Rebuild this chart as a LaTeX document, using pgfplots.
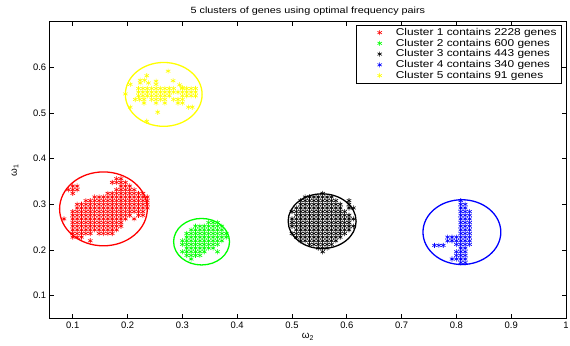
\documentclass[border=0pt]{standalone}
\usepackage{fontspec}
\setmainfont{Liberation Sans}
\newfontfamily\legfont{Liberation Sans}[FakeStretch=1.2]
\usepackage{pgfplots}
\pgfplotsset{compat=1.18}
\definecolor{cred}{RGB}{255,0,0}
\definecolor{cgreen}{RGB}{0,255,0}
\definecolor{cblue}{RGB}{0,0,255}
\definecolor{cyellow}{RGB}{255,255,0}
\begin{document}
\begin{tikzpicture}
\begin{axis}[name=ax, scale only axis, width=519bp, height=298bp,
  xmin=0.058, xmax=1, ymin=0.05, ymax=0.7,
  xtick={0.1,0.2,0.3,0.4,0.5,0.6,0.7,0.8,0.9,1},
  ytick={0.1,0.2,0.3,0.4,0.5,0.6},
  /pgf/number format/assume math mode=true,
  /pgf/number format/fixed,
  tick align=inside, tick pos=both, major tick length=4bp,
  tick style={black, line width=0.6bp},
  axis line style={line width=0.8bp},
  ticklabel style={font=\fontsize{9.5}{11}\selectfont},
  title={5 clusters of genes using optimal frequency pairs},
  title style={font=\legfont\fontsize{9.1}{11}\selectfont, at={(0.5,1)}, anchor=south, yshift=-3bp},
  xlabel={ω\textsubscript{2}}, ylabel={ω\textsubscript{1}},
  label style={font=\fontsize{10}{12}\selectfont},
  xlabel style={yshift=2bp},
  ylabel style={at={(axis description cs:-0.0674,0.5)}, anchor=center},
  every axis plot/.append style={only marks, mark=asterisk, mark size=2.6bp, line width=0.6bp,
    legend image code/.code={\path (0bp,0bp) (34bp,0bp); \draw[##1] plot coordinates {(20bp,0bp)};}},
  legend style={at={(0.992,0.99)}, anchor=north east, draw=black, line width=0.8bp,
    font=\legfont\fontsize{10}{12}\selectfont, cells={anchor=west},
    nodes={inner ysep=1bp, text height=7.3bp, text depth=1.5bp}, row sep=0pt, inner ysep=2bp},
]
\addplot[cred] coordinates {
(0.180,0.356)(0.188,0.356)
(0.172,0.348)(0.180,0.348)(0.188,0.348)(0.196,0.348)
(0.100,0.340)(0.108,0.340)(0.188,0.340)(0.196,0.340)(0.204,0.340)
(0.092,0.332)(0.100,0.332)(0.108,0.332)(0.180,0.332)(0.188,0.332)(0.196,0.332)(0.204,0.332)(0.212,0.332)
(0.100,0.324)(0.164,0.324)(0.172,0.324)(0.180,0.324)(0.188,0.324)(0.196,0.324)(0.204,0.324)(0.212,0.324)(0.220,0.324)(0.228,0.324)
(0.140,0.316)(0.148,0.316)(0.156,0.316)(0.164,0.316)(0.172,0.316)(0.180,0.316)(0.188,0.316)(0.196,0.316)(0.204,0.316)(0.212,0.316)(0.220,0.316)(0.228,0.316)(0.236,0.316)
(0.124,0.308)(0.132,0.308)(0.140,0.308)(0.148,0.308)(0.156,0.308)(0.164,0.308)(0.172,0.308)(0.180,0.308)(0.188,0.308)(0.196,0.308)(0.204,0.308)(0.212,0.308)(0.220,0.308)(0.228,0.308)(0.236,0.308)
(0.108,0.300)(0.116,0.300)(0.124,0.300)(0.132,0.300)(0.140,0.300)(0.148,0.300)(0.156,0.300)(0.164,0.300)(0.172,0.300)(0.180,0.300)(0.188,0.300)(0.196,0.300)(0.204,0.300)(0.212,0.300)(0.220,0.300)(0.228,0.300)(0.236,0.300)
(0.108,0.292)(0.116,0.292)(0.124,0.292)(0.132,0.292)(0.140,0.292)(0.148,0.292)(0.156,0.292)(0.164,0.292)(0.172,0.292)(0.180,0.292)(0.188,0.292)(0.196,0.292)(0.204,0.292)(0.212,0.292)(0.220,0.292)(0.228,0.292)(0.236,0.292)
(0.100,0.284)(0.108,0.284)(0.116,0.284)(0.124,0.284)(0.132,0.284)(0.140,0.284)(0.148,0.284)(0.156,0.284)(0.164,0.284)(0.172,0.284)(0.180,0.284)(0.188,0.284)(0.196,0.284)(0.204,0.284)(0.212,0.284)(0.220,0.284)(0.228,0.284)
(0.100,0.276)(0.108,0.276)(0.116,0.276)(0.124,0.276)(0.132,0.276)(0.140,0.276)(0.148,0.276)(0.156,0.276)(0.164,0.276)(0.172,0.276)(0.180,0.276)(0.188,0.276)(0.196,0.276)(0.204,0.276)(0.220,0.276)(0.228,0.276)
(0.084,0.268)(0.100,0.268)(0.108,0.268)(0.116,0.268)(0.124,0.268)(0.132,0.268)(0.140,0.268)(0.148,0.268)(0.156,0.268)(0.164,0.268)(0.172,0.268)(0.180,0.268)(0.188,0.268)(0.196,0.268)(0.212,0.268)
(0.100,0.260)(0.108,0.260)(0.116,0.260)(0.124,0.260)(0.132,0.260)(0.140,0.260)(0.148,0.260)(0.156,0.260)(0.164,0.260)(0.172,0.260)(0.180,0.260)(0.188,0.260)
(0.100,0.252)(0.108,0.252)(0.116,0.252)(0.124,0.252)(0.132,0.252)(0.140,0.252)(0.148,0.252)(0.156,0.252)(0.164,0.252)(0.172,0.252)(0.180,0.252)(0.188,0.252)
(0.100,0.244)(0.108,0.244)(0.116,0.244)(0.124,0.244)(0.132,0.244)(0.140,0.244)(0.148,0.244)(0.156,0.244)(0.164,0.244)(0.172,0.244)(0.180,0.244)
(0.100,0.236)(0.108,0.236)(0.116,0.236)(0.124,0.236)(0.132,0.236)(0.148,0.236)(0.156,0.236)(0.164,0.236)(0.172,0.236)
(0.100,0.228)(0.108,0.228)(0.116,0.228)
(0.132,0.220)
};
\addlegendentry{Cluster 1 contains 2228 genes}
\addplot[cgreen] coordinates {
(0.348,0.260)(0.356,0.260)(0.364,0.260)
(0.324,0.252)(0.332,0.252)(0.340,0.252)(0.348,0.252)(0.356,0.252)(0.364,0.252)(0.372,0.252)
(0.316,0.244)(0.324,0.244)(0.332,0.244)(0.340,0.244)(0.348,0.244)(0.356,0.244)(0.364,0.244)(0.372,0.244)
(0.308,0.236)(0.316,0.236)(0.324,0.236)(0.332,0.236)(0.340,0.236)(0.348,0.236)(0.356,0.236)(0.364,0.236)(0.372,0.236)(0.380,0.236)
(0.308,0.228)(0.316,0.228)(0.324,0.228)(0.332,0.228)(0.340,0.228)(0.348,0.228)(0.356,0.228)(0.364,0.228)(0.372,0.228)(0.380,0.228)
(0.300,0.220)(0.308,0.220)(0.316,0.220)(0.324,0.220)(0.332,0.220)(0.340,0.220)(0.348,0.220)(0.356,0.220)(0.364,0.220)(0.372,0.220)
(0.300,0.212)(0.308,0.212)(0.316,0.212)(0.324,0.212)(0.332,0.212)(0.340,0.212)(0.348,0.212)(0.356,0.212)(0.364,0.212)
(0.308,0.204)(0.316,0.204)(0.324,0.204)(0.332,0.204)(0.340,0.204)(0.348,0.204)(0.356,0.204)
(0.300,0.196)(0.308,0.196)(0.316,0.196)(0.324,0.196)(0.332,0.196)(0.340,0.196)(0.364,0.196)
(0.308,0.188)(0.316,0.188)(0.324,0.188)(0.332,0.188)
(0.316,0.180)
};
\addlegendentry{Cluster 2 contains 600 genes}
\addplot[black] coordinates {
(0.556,0.324)
(0.524,0.316)(0.532,0.316)(0.540,0.316)(0.548,0.316)(0.556,0.316)(0.564,0.316)(0.572,0.316)
(0.516,0.308)(0.524,0.308)(0.532,0.308)(0.540,0.308)(0.548,0.308)(0.556,0.308)(0.564,0.308)(0.572,0.308)(0.580,0.308)(0.604,0.308)
(0.516,0.300)(0.524,0.300)(0.532,0.300)(0.540,0.300)(0.548,0.300)(0.556,0.300)(0.564,0.300)(0.572,0.300)(0.580,0.300)(0.588,0.300)(0.604,0.300)
(0.508,0.292)(0.516,0.292)(0.524,0.292)(0.532,0.292)(0.540,0.292)(0.548,0.292)(0.556,0.292)(0.564,0.292)(0.572,0.292)(0.580,0.292)(0.588,0.292)(0.604,0.292)(0.612,0.292)
(0.500,0.284)(0.508,0.284)(0.516,0.284)(0.524,0.284)(0.532,0.284)(0.540,0.284)(0.548,0.284)(0.556,0.284)(0.564,0.284)(0.572,0.284)(0.580,0.284)(0.588,0.284)(0.596,0.284)
(0.508,0.276)(0.516,0.276)(0.524,0.276)(0.532,0.276)(0.540,0.276)(0.548,0.276)(0.556,0.276)(0.564,0.276)(0.572,0.276)(0.580,0.276)(0.588,0.276)(0.596,0.276)(0.604,0.276)
(0.500,0.268)(0.508,0.268)(0.516,0.268)(0.524,0.268)(0.532,0.268)(0.540,0.268)(0.548,0.268)(0.556,0.268)(0.564,0.268)(0.572,0.268)(0.580,0.268)(0.588,0.268)(0.596,0.268)(0.604,0.268)(0.612,0.268)
(0.500,0.260)(0.508,0.260)(0.516,0.260)(0.524,0.260)(0.532,0.260)(0.540,0.260)(0.548,0.260)(0.556,0.260)(0.564,0.260)(0.572,0.260)(0.580,0.260)(0.588,0.260)(0.596,0.260)(0.604,0.260)
(0.500,0.252)(0.508,0.252)(0.516,0.252)(0.524,0.252)(0.532,0.252)(0.540,0.252)(0.548,0.252)(0.556,0.252)(0.564,0.252)(0.572,0.252)(0.580,0.252)(0.588,0.252)(0.596,0.252)(0.604,0.252)(0.612,0.252)
(0.508,0.244)(0.516,0.244)(0.524,0.244)(0.532,0.244)(0.540,0.244)(0.548,0.244)(0.556,0.244)(0.564,0.244)(0.572,0.244)(0.580,0.244)(0.588,0.244)(0.596,0.244)(0.604,0.244)
(0.500,0.236)(0.508,0.236)(0.516,0.236)(0.524,0.236)(0.532,0.236)(0.540,0.236)(0.548,0.236)(0.556,0.236)(0.564,0.236)(0.572,0.236)(0.580,0.236)(0.588,0.236)(0.596,0.236)
(0.508,0.228)(0.516,0.228)(0.524,0.228)(0.532,0.228)(0.540,0.228)(0.548,0.228)(0.556,0.228)(0.564,0.228)(0.572,0.228)(0.580,0.228)(0.588,0.228)
(0.516,0.220)(0.524,0.220)(0.532,0.220)(0.540,0.220)(0.548,0.220)(0.556,0.220)(0.564,0.220)(0.572,0.220)(0.580,0.220)
(0.532,0.212)(0.540,0.212)(0.548,0.212)(0.556,0.212)(0.564,0.212)(0.572,0.212)
(0.548,0.204)(0.556,0.204)(0.564,0.204)
(0.556,0.196)
};
\addlegendentry{Cluster 3 contains 443 genes}
\addplot[cblue] coordinates {
(0.808,0.172)(0.808,0.180)(0.808,0.188)(0.808,0.196)(0.808,0.204)(0.808,0.212)(0.808,0.220)(0.808,0.228)(0.808,0.236)(0.808,0.244)(0.808,0.252)(0.808,0.260)(0.808,0.268)(0.808,0.276)(0.808,0.284)(0.808,0.292)(0.808,0.300)(0.808,0.308)
(0.816,0.172)(0.816,0.180)(0.816,0.188)(0.816,0.196)(0.816,0.204)(0.816,0.212)(0.816,0.220)(0.816,0.228)(0.816,0.236)(0.816,0.244)(0.816,0.252)(0.816,0.260)(0.816,0.268)(0.816,0.276)(0.816,0.284)(0.816,0.292)(0.816,0.300)
(0.824,0.212)(0.824,0.220)(0.824,0.228)(0.824,0.236)(0.824,0.244)(0.824,0.252)(0.824,0.260)(0.824,0.268)(0.824,0.276)(0.824,0.284)
(0.800,0.180)(0.800,0.188)(0.800,0.196)(0.800,0.212)(0.800,0.220)(0.800,0.228)
(0.792,0.228)(0.792,0.220)(0.792,0.180)
(0.784,0.228)(0.784,0.220)
(0.760,0.210)(0.768,0.210)(0.776,0.210)
};
\addlegendentry{Cluster 4 contains 340 genes}
\addplot[cyellow] coordinates {
(0.274,0.592)(0.235,0.582)(0.223,0.572)(0.231,0.572)(0.238,0.566)(0.223,0.566)(0.252,0.570)(0.252,0.563)(0.283,0.571)(0.205,0.563)(0.295,0.562)(0.300,0.556)(0.196,0.542)
(0.220,0.554)(0.228,0.554)(0.236,0.554)(0.244,0.554)(0.252,0.554)(0.260,0.554)(0.268,0.554)(0.276,0.554)(0.284,0.554)(0.300,0.554)(0.308,0.554)(0.316,0.554)(0.324,0.554)
(0.220,0.546)(0.228,0.546)(0.236,0.546)(0.244,0.546)(0.252,0.546)(0.260,0.546)(0.268,0.546)(0.276,0.546)(0.284,0.546)(0.292,0.546)(0.300,0.546)(0.308,0.546)(0.316,0.546)(0.324,0.546)
(0.220,0.538)(0.228,0.538)(0.236,0.538)(0.244,0.538)(0.252,0.538)(0.260,0.538)(0.268,0.538)(0.276,0.538)(0.300,0.538)(0.308,0.538)(0.316,0.538)(0.324,0.538)
(0.214,0.530)(0.222,0.530)(0.230,0.530)(0.244,0.530)(0.252,0.530)(0.260,0.530)(0.268,0.530)(0.284,0.530)(0.292,0.530)(0.300,0.530)
(0.230,0.522)(0.252,0.522)(0.268,0.522)(0.292,0.522)(0.300,0.522)
(0.205,0.513)(0.311,0.513)(0.318,0.513)
(0.255,0.502)(0.235,0.482)
};
\addlegendentry{Cluster 5 contains 91 genes}
\draw[cred, line width=1.3bp] (axis cs:0.156,0.290) ellipse [x radius=0.080, y radius=0.081];
\draw[cgreen, line width=1.3bp] (axis cs:0.335,0.218) ellipse [x radius=0.051, y radius=0.051];
\draw[black, line width=1.3bp] (axis cs:0.555,0.263) ellipse [x radius=0.062, y radius=0.060];
\draw[cblue, line width=1.3bp] (axis cs:0.810,0.239) ellipse [x radius=0.071, y radius=0.071];
\draw[cyellow, line width=1.3bp] (axis cs:0.266,0.541) ellipse [x radius=0.070, y radius=0.070];
\end{axis}
\pgfresetboundingbox
\path[use as bounding box] ([shift={(-50bp,-27bp)}]ax.south west) rectangle ([shift={(4bp,22bp)}]ax.north east);
\end{tikzpicture}
\end{document}
